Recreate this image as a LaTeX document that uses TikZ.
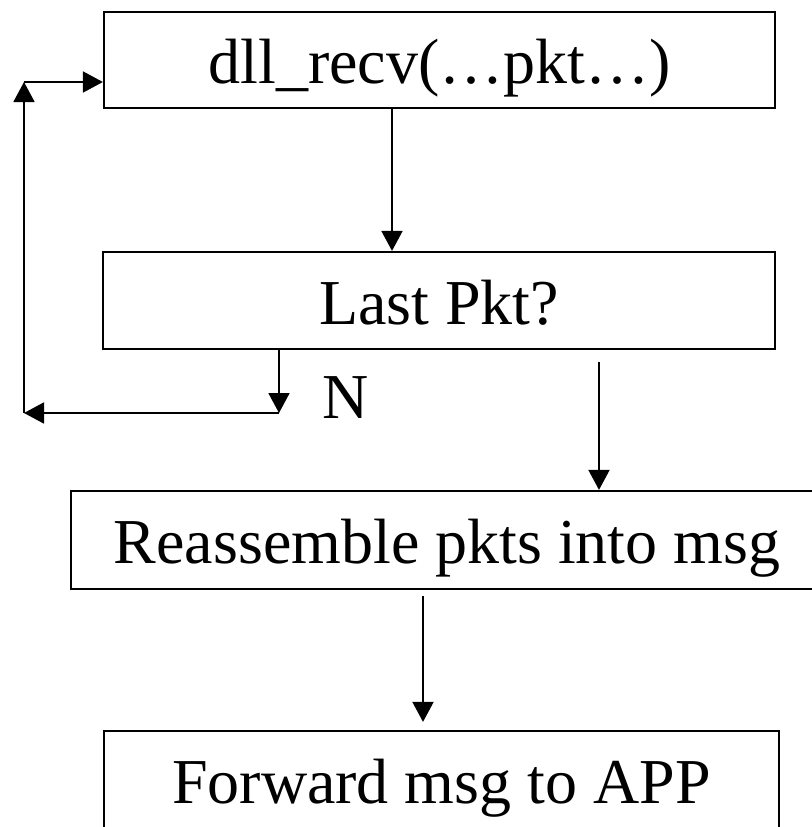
\documentclass[tikz,border=0pt]{standalone}
\usepackage{fontspec}
\setmainfont{Liberation Serif}
\usetikzlibrary{arrows.meta}
\begin{document}
\begin{tikzpicture}[x=1pt,y=-1pt,
  box/.style={draw=black,line width=2.2pt,rectangle,inner sep=0pt,
    text height=60pt,text depth=13pt,font=\fontsize{64}{70}\selectfont},
  arr/.style={line width=1.8pt,-{Triangle[width=21pt,length=20pt]}},
  lbl/.style={font=\fontsize{64}{70}\selectfont,inner sep=0pt}]
\useasboundingbox (0,0) rectangle (811,827);
\node[box,minimum width=671pt,minimum height=96pt] (recv) at (439.5,60) {dll\_recv(…pkt…)};
\node[box,minimum width=672pt,minimum height=97pt] (last) at (439,300.5) {Last Pkt?};
\node[box,minimum width=752pt,minimum height=98pt] (reas) at (447,540) {Reassemble pkts into msg};
\node[box,minimum width=675pt,minimum height=98pt] (fwd) at (441.5,780) {Forward msg to APP};
\node[lbl,anchor=base west] (n) at (322,418) {N};
\coordinate (c1) at (392,0);
\coordinate (c2) at (599,0);
\coordinate (c3) at (423,0);
\coordinate (c4) at (279,0);
\coordinate (lb) at (279,413);
\coordinate (ll) at (24,413);
\coordinate (lt) at (24,82);
\draw[arr] (recv.south -| c1) -- (last.north -| c1);
\draw[arr] ([yshift=-12pt]last.south -| c2) -- (reas.north -| c2);
\draw[arr] ([yshift=-6pt]reas.south -| c3) -- ([yshift=8pt]fwd.north -| c3);
\draw[arr] (last.south -| c4) -- (lb);
\draw[arr] (lb) -- (ll);
\draw[arr] (ll) -- (lt);
\draw[arr] (lt) -- (recv.west |- lt);
\end{tikzpicture}
\end{document}
